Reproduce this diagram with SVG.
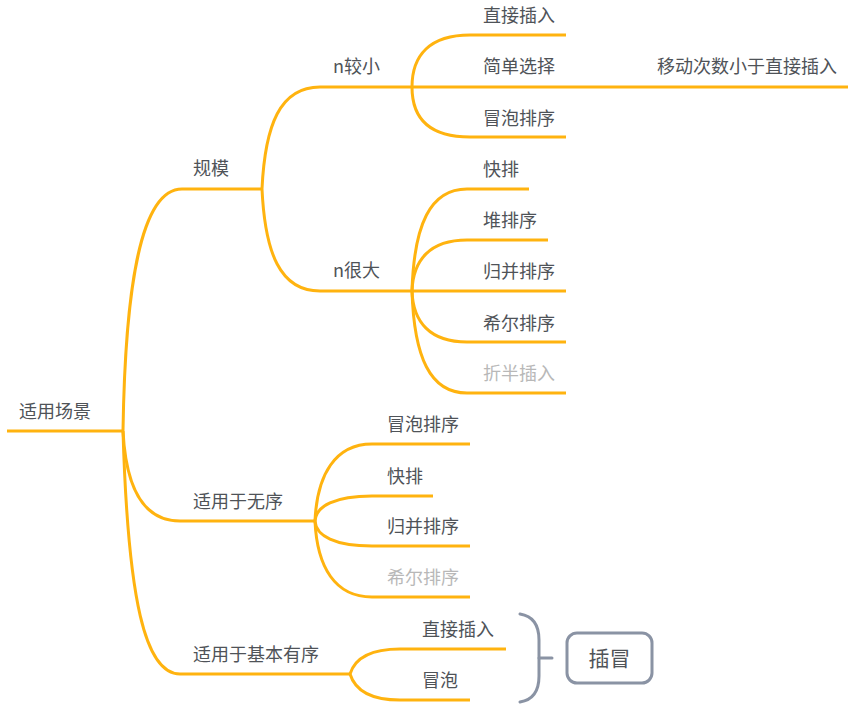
<svg xmlns="http://www.w3.org/2000/svg" width="866" height="717" viewBox="0 0 866 717">
<style>
  .t { font-family: "Noto Sans CJK SC", "Noto Sans", sans-serif; font-size: 18px; fill: #4f5358; }
  .g { fill: #b8b8b8; }
  .ln { fill: none; stroke: #FFB30F; stroke-width: 3; stroke-linecap: butt; }
  .br { fill: none; stroke: #8a93a4; stroke-width: 3; stroke-linecap: round; }
</style>
<rect width="866" height="717" fill="#ffffff"/>
<g id="connectors">
  <path class="ln" d="M7,431 L123,431"/>
  <path class="ln" d="M123,431 C125,300 138,189 182,189 L262,189"/>
  <path class="ln" d="M123,431 C126,490 145,521 180,521 L315,521"/>
  <path class="ln" d="M123,431 C128,600 145,674 180,674 L350,674"/>
  <path class="ln" d="M262,189 C265,125 280,87 320,87 L412,87"/>
  <path class="ln" d="M262,189 C265,253 280,291 320,291 L412,291"/>
  <path class="ln" d="M412,87 C412,55 430,35 470,35 L566,35"/>
  <path class="ln" d="M412,87 L848,87"/>
  <path class="ln" d="M412,87 C412,119 430,137 470,137 L566,137"/>
  <path class="ln" d="M412,291 C414,225 430,189 467,189 L529,189"/>
  <path class="ln" d="M412,291 C413,260 430,240 467,240 L548,240"/>
  <path class="ln" d="M412,291 L566,291"/>
  <path class="ln" d="M412,291 C413,322 430,342 467,342 L566,342"/>
  <path class="ln" d="M412,291 C414,357 430,393 467,393 L566,393"/>
  <path class="ln" d="M315,521 C317,475 335,444 372,444 L470,444"/>
  <path class="ln" d="M315,521 C316,506 335,496 372,496 L433,496"/>
  <path class="ln" d="M315,521 C316,536 335,546 372,546 L470,546"/>
  <path class="ln" d="M315,521 C317,567 335,597 372,597 L470,597"/>
  <path class="ln" d="M350,674 C355,658 370,649 400,649 L506,649"/>
  <path class="ln" d="M350,674 C355,690 370,700 400,700 L470,700"/>
  <path class="br" d="M520,614 Q539,617 539,640 L539,676 Q539,699 520,702"/>
  <path class="br" d="M539,658 L552,658"/>
</g>
<g id="n-root"><text class="t" x="19" y="418">适用场景</text></g>
<g id="n-guimo"><text class="t" x="193" y="175">规模</text></g>
<g id="n-nsmall"><text class="t" x="333" y="73">n较小</text></g>
<g id="n-zhijie1"><text class="t" x="483" y="22">直接插入</text></g>
<g id="n-jiandan"><text class="t" x="483" y="73">简单选择</text></g>
<g id="n-yidong"><text class="t" x="657" y="73">移动次数小于直接插入</text></g>
<g id="n-maopao1"><text class="t" x="483" y="125">冒泡排序</text></g>
<g id="n-nlarge"><text class="t" x="333" y="277">n很大</text></g>
<g id="n-kuaipai1"><text class="t" x="483" y="176">快排</text></g>
<g id="n-dui"><text class="t" x="483" y="227">堆排序</text></g>
<g id="n-guibing1"><text class="t" x="483" y="278">归并排序</text></g>
<g id="n-xier1"><text class="t" x="483" y="330">希尔排序</text></g>
<g id="n-zheban"><text class="t g" x="483" y="380">折半插入</text></g>
<g id="n-wuxu"><text class="t" x="193" y="508">适用于无序</text></g>
<g id="n-maopao2"><text class="t" x="387" y="431">冒泡排序</text></g>
<g id="n-kuaipai2"><text class="t" x="387" y="483">快排</text></g>
<g id="n-guibing2"><text class="t" x="387" y="533">归并排序</text></g>
<g id="n-xier2"><text class="t g" x="387" y="584">希尔排序</text></g>
<g id="n-youxu"><text class="t" x="193" y="661">适用于基本有序</text></g>
<g id="n-zhijie2"><text class="t" x="422" y="636">直接插入</text></g>
<g id="n-maopao3"><text class="t" x="422" y="687">冒泡</text></g>
<g id="n-chamao">
  <rect x="567" y="633" width="85" height="50" rx="10" fill="#ffffff" stroke="#8a93a4" stroke-width="3"/>
  <text class="t" x="609.5" y="666" text-anchor="middle" style="font-size:21px">插冒</text>
</g>
</svg>
